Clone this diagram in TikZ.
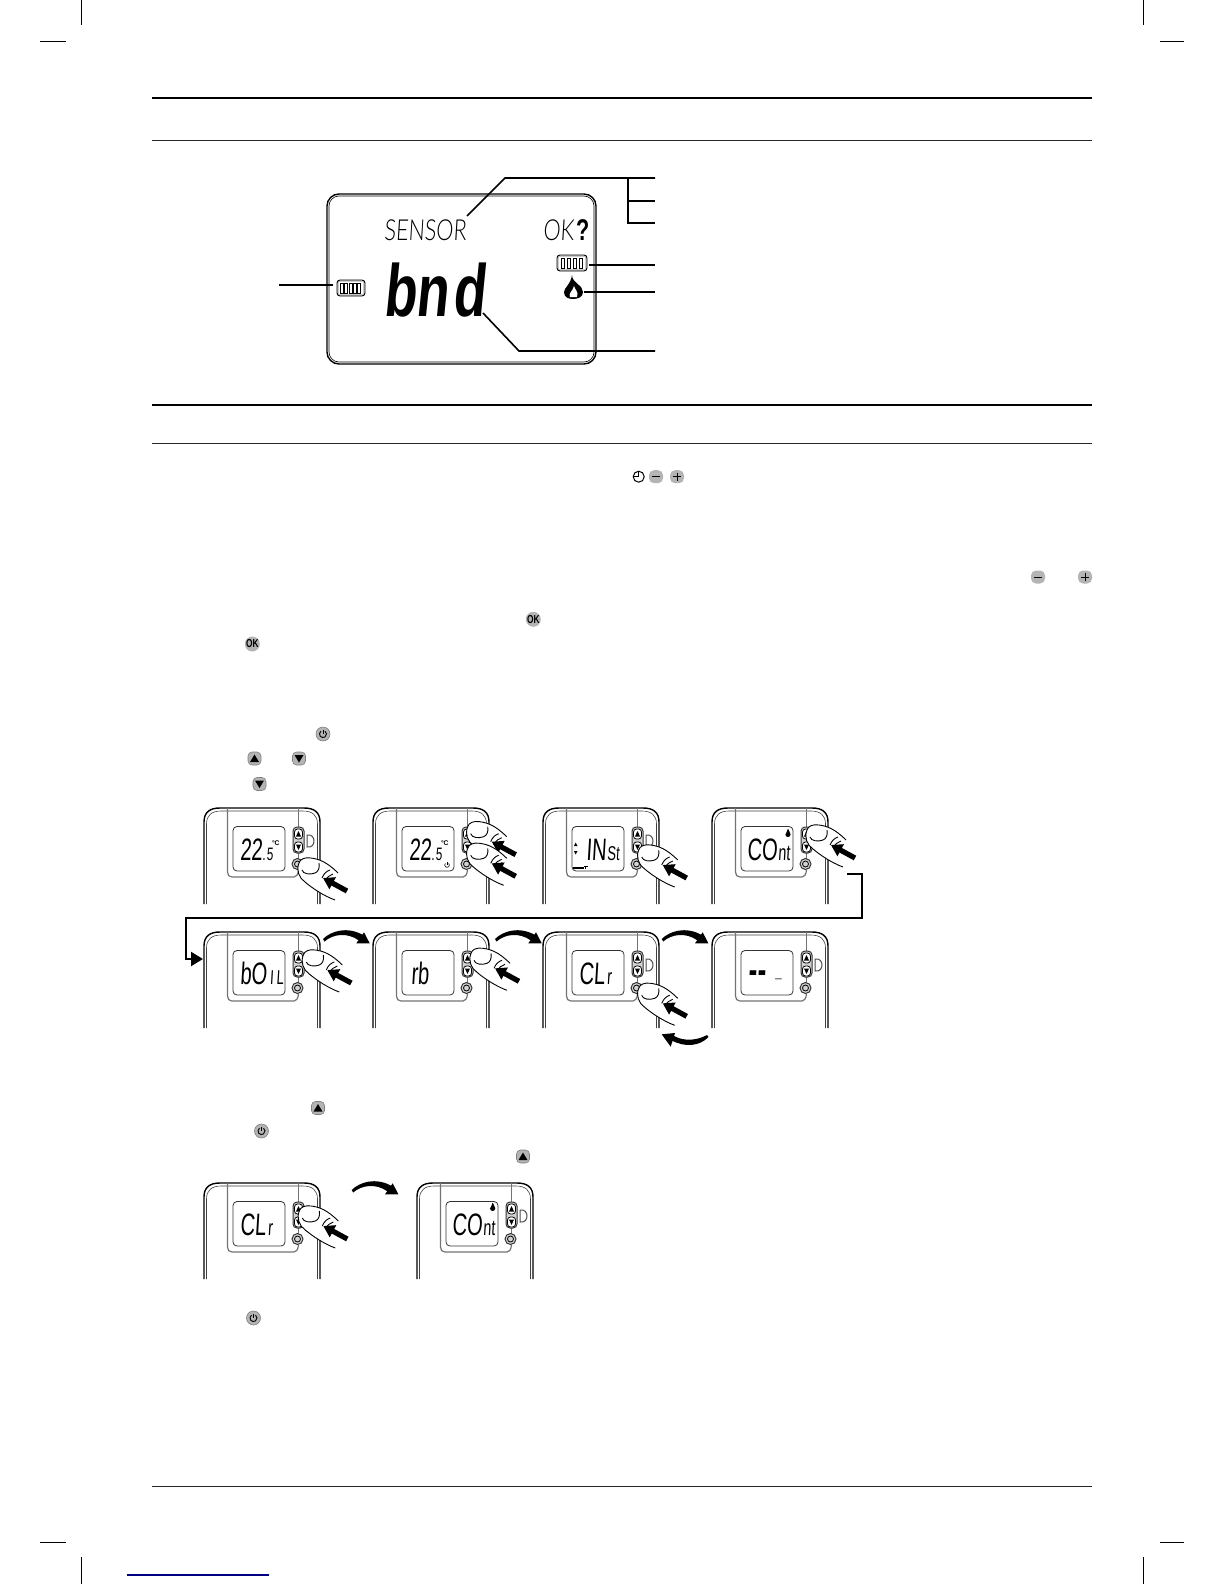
\documentclass[tikz,border=0pt]{standalone}
\usepackage{fontspec}
\setmainfont{Liberation Sans}
\newfontfamily\lcdreg[FakeSlant=0.06,FakeStretch=0.65]{Liberation Sans}
\newfontfamily\lcdbig[FakeSlant=0.1,FakeStretch=0.72]{Liberation Sans}
\newfontfamily\lcdq[FakeStretch=0.72]{Liberation Sans}
\newfontfamily\lcdthin[FakeSlant=0.06,FakeStretch=0.745]{Lato Light}
\usetikzlibrary{arrows.meta}
\definecolor{btngray}{HTML}{B4B4B4}
\tikzset{
  x=0.5pt,y=-0.5pt,
  rulethick/.style={line width=1pt,black},
  rulethin/.style={line width=0.4pt,black!85},
  crop/.style={line width=0.5pt,black},
  leader/.style={line width=0.8pt,black},
  lcdtxt/.style={anchor=base west,inner sep=0pt,outer sep=0pt,text=black},
  body/.style={line width=0.7pt,black},
  bodyin/.style={line width=0.3pt,black!75},
  panel/.style={line width=0.6pt,black!55},
  screenbox/.style={line width=0.4pt,black!80,rounded corners=2pt,fill=white},
  pressarrow/.style={line width=2.6pt,black,-{Triangle[length=5.5pt,width=6.5pt]}},
  thickflow/.style={line width=1.1pt,black},
  fingerline/.style={line width=0.45pt,black},
  iconbtn/.style={fill=btngray,draw=black!50,line width=0.3pt},
}
% device body, origin at left/top edge
\newcommand{\thdevice}[2]{%
  \begin{scope}[shift={(#1,#2)}]
    \draw[body] (0,96) -- (0,14) .. controls (0,4) and (6,0) .. (16,0) -- (100,0) .. controls (110,0) and (116,4) .. (116,14) -- (116,96);
    \draw[bodyin] (2.5,96) -- (2.5,16) .. controls (2.5,7) and (8,3) .. (17,3) -- (99,3) .. controls (108,3) and (113.5,7) .. (113.5,16) -- (113.5,96);
    \draw[panel] (23.5,0) -- (23.5,64) .. controls (23.5,67) and (25,69) .. (28,69) -- (90,69) .. controls (92,69) and (94,67) .. (94.5,62);
    \draw[panel] (94.5,0) -- (94.5,19);
    \draw[panel] (94.5,45) -- (94.5,51);
    \draw[screenbox] (29,18.5) rectangle (81,63);
    \draw[line width=0.5pt,black!70,fill=white] (103,27) .. controls (108,26) and (110,30) .. (110,33) .. controls (110,36) and (108,40) .. (103,39) -- cycle;
    \draw[line width=0.5pt,black!80,fill=btngray!60,rounded corners=2pt] (89,19) rectangle (100,45);
    \draw[line width=0.4pt,black,fill=white,rounded corners=1.5pt] (90.5,21) rectangle (98.5,31);
    \draw[line width=0.4pt,black,fill=white,rounded corners=1.5pt] (90.5,34) rectangle (98.5,44);
    \fill[black] (94.5,23) -- (97,28.5) -- (92,28.5) -- cycle;
    \fill[black] (94.5,42) -- (97,36.5) -- (92,36.5) -- cycle;
    \draw[line width=0.5pt,black!80,fill=btngray!60] (93.5,56) circle (5.5);
    \draw[line width=0.4pt,black] (93.5,56) circle (3);
  \end{scope}}
% finger + press arrow: origin next to the pressed button
\newcommand{\thfinger}[2]{%
  \begin{scope}[shift={(#1,#2)}]
    \fill[white] (38,36) .. controls (27,32) and (15,24) .. (8,18) .. controls (2,14) and (-1,6) .. (2,-1) .. controls (3,-5) and (8,-7) .. (14,-6) .. controls (22,-5) and (30,-2) .. (41,9) -- (33,15) -- cycle;
    \draw[fingerline] (38,36) .. controls (27,32) and (15,24) .. (8,18) .. controls (2,14) and (-1,6) .. (2,-1) .. controls (3,-5) and (8,-7) .. (14,-6) .. controls (22,-5) and (30,-2) .. (41,9);
    \draw[fingerline] (5,6) .. controls (6,10) and (13,11) .. (18,9) .. controls (21,8) and (23,4) .. (22,-1);
    \draw[fingerline] (25,14) .. controls (27,9) and (30,7) .. (33,6);
    \draw[fingerline] (28,17) .. controls (30,13) and (33,11) .. (36,10);
    \draw[pressarrow] (50,27) -- (26,14);
  \end{scope}}
% big curved arrow, left to right
\newcommand{\thcurve}[2]{%
  \begin{scope}[shift={(#1,#2)}]
    \fill[black] (0,0) .. controls (8,-8) and (24,-13) .. (40,-4) -- (36,1.5) .. controls (24,-7) and (10,-5) .. (1.5,2.5) -- cycle;
    \fill[black] (41,-6.7) -- (46.7,4.3) -- (33.3,4.3) -- cycle;
  \end{scope}}
% text-line icons
\newcommand{\btnpower}[2]{%
  \path[iconbtn] (#1,#2) circle (7);
  \draw[line width=0.45pt,black] (#1,#2) ++(-2,-2.8) arc[start angle=235,end angle=-55,radius=3.5];
  \draw[line width=0.45pt,black] (#1,#2) ++(0,-4.5) -- ++(0,4);}
\newcommand{\btnup}[2]{%
  \path[iconbtn,rounded corners=2pt] (#1,#2) ++(-6.5,-6.5) rectangle ++(13,13);
  \fill[black] (#1,#2) ++(0,-4) -- ++(4.5,7.5) -- ++(-9,0) -- cycle;}
\newcommand{\btndown}[2]{%
  \path[iconbtn,rounded corners=2pt] (#1,#2) ++(-6.5,-6.5) rectangle ++(13,13);
  \fill[black] (#1,#2) ++(0,4) -- ++(4.5,-7.5) -- ++(-9,0) -- cycle;}
\newcommand{\btnminus}[2]{%
  \fill[btngray,rounded corners=2.5pt] (#1,#2) ++(-7,-6.5) rectangle ++(14,13);
  \draw[line width=0.4pt,black] (#1,#2) ++(-4,0) -- ++(8,0);}
\newcommand{\btnplus}[2]{%
  \fill[btngray,rounded corners=2.5pt] (#1,#2) ++(-7,-6.5) rectangle ++(14,13);
  \draw[line width=0.4pt,black] (#1,#2) ++(-4,0) -- ++(8,0) (#1,#2) ++(0,-4) -- ++(0,8);}
\newcommand{\btnok}[3]{%
  \node[circle,fill=btngray,minimum size=7.4pt,inner sep=0pt,font=\lcdq\bfseries\fontsize{5.8}{6}\selectfont] (#3) at (#1,#2) {OK};}
\newcommand{\smallflame}[2]{%
  \begin{scope}[shift={(#1,#2)}]
    \fill[black] (0,-4.5) .. controls (0.3,-2) and (2.6,-1) .. (2.6,1.5) .. controls (2.6,3) and (1,4) .. (0,4) .. controls (-1.5,4) and (-2.6,3) .. (-2.6,1.5) .. controls (-2.6,0) and (-0.2,-1.5) .. (0,-4.5) -- cycle;
  \end{scope}}
\begin{document}
\begin{tikzpicture}
\useasboundingbox (0,0) rectangle (1224,1584);
% page rules
\draw[rulethick] (152,98) -- (1092,98);
\draw[rulethin] (152,140) -- (1092,140);
\draw[rulethick] (152,404.5) -- (1092,404.5);
\draw[rulethin] (152,443) -- (1092,443);
\draw[rulethin] (152,1486.5) -- (1092,1486.5);
% crop marks
\draw[crop] (81,0) -- (81,25) (40,42) -- (66,42);
\draw[crop] (1143,0) -- (1143,25) (1160,42) -- (1184,42);
\draw[crop] (81,1557) -- (81,1584) (40,1542) -- (66,1542);
\draw[crop] (1143,1557) -- (1143,1584) (1160,1542) -- (1184,1542);
\draw[line width=0.6pt,blue!50!black] (127,1575) -- (269,1575);

% main display
\draw[line width=0.7pt,black,rounded corners=6pt] (327,194) rectangle (596,364);
\draw[line width=0.3pt,black,rounded corners=5pt] (329,196) rectangle (594,362);
\node[lcdtxt,font=\lcdthin\fontsize{14.5}{16}\selectfont] (sensor) at (384,240) {SENSOR};
\node[lcdtxt,font=\lcdthin\fontsize{14.5}{16}\selectfont] (oktxt) at (543,240) {OK};
\node[lcdtxt,font=\lcdq\bfseries\fontsize{15}{16}\selectfont] (qmark) at (576,240) {?};
\node[lcdtxt,font=\lcdbig\bfseries\fontsize{37}{40}\selectfont] (bnd) at (383,316) {bn\kern2pt d};
% batteries
\draw[line width=0.45pt,black,fill=btngray!70,rounded corners=1.5pt] (337,280) rectangle (365,296);
\fill[white] (339,282) rectangle (363,294);
\foreach \bx in {340.5,344.8,349.1,353.4,357.7} \draw[line width=0.4pt,black] (\bx,283) rectangle ++(3,10);
\draw[line width=0.45pt,black,fill=btngray!70,rounded corners=1.5pt] (557,255) rectangle (587,271);
\fill[white] (559,257) rectangle (585,269);
\foreach \bx in {561,567,573,579} \draw[line width=0.4pt,black] (\bx,258) rectangle ++(3,10);
% flame
\fill[black] (572,275) .. controls (572,283) and (583,285) .. (583,292) .. controls (583,297) and (578,299) .. (573,299) .. controls (568,299) and (564,297) .. (564,292) .. controls (564,288) and (571,284) .. (572,275) -- cycle;
\fill[white] (574,286) .. controls (575,290) and (579,292) .. (577,297) -- (570,297) .. controls (568,293) and (573,291) .. (574,286) -- cycle;
% leaders
\coordinate (ls) at (467,216);
\coordinate (lsk) at (505,178);
\coordinate (ljt) at (628,178);
\coordinate (ljm) at (628,201);
\coordinate (ljb) at (628,223);
\coordinate (le1) at (655,178);
\coordinate (le2) at (655,201);
\coordinate (le3) at (655,223);
\coordinate (lb) at (589,265);
\coordinate (le4) at (655,265);
\coordinate (lf) at (584,292);
\coordinate (le5) at (655,292);
\coordinate (ld) at (483,313);
\coordinate (ldk) at (519,351);
\coordinate (le6) at (655,351);
\coordinate (ll) at (333,285);
\coordinate (le7) at (279,285);
\draw[leader] (ls) -- (lsk) -- (le1);
\draw[leader] (ljt) -- (ljb) -- (le3);
\draw[leader] (ljm) -- (le2);
\draw[leader] (lb) -- (le4);
\draw[leader] (lf) -- (le5);
\draw[leader] (ld) -- (ldk) -- (le6);
\draw[leader] (ll) -- (le7);

% inline icons
\draw[line width=0.5pt,black] (638.7,476.7) circle (5.5);
\draw[line width=0.5pt,black] (638.7,471.5) -- (638.7,476.7) -- (634,476.7);
\btnminus{656}{476.7}
\btnplus{677}{476.7}
\btnminus{1038}{577}
\btnplus{1085}{577}
\btnok{533.3}{619.3}{oka}{}
\btnok{252.3}{644}{okb}{}
\btnpower{323}{734}
\btnup{254.5}{758.5}
\btndown{299}{758.5}
\btndown{259.5}{784}
\btnup{318}{1108}
\btnpower{261.5}{1131}
\btnup{523}{1156.5}
\btnpower{253.5}{1318}

% row 1
\thdevice{204}{808}
\thdevice{373}{808}
\thdevice{543}{808}
\thdevice{712}{808}
\node[lcdtxt,font=\lcdreg\fontsize{15.5}{17}\selectfont] (t1) at (240,860) {22{\fontsize{9}{9}\selectfont.\kern0.5pt5}};
\node[lcdtxt,font=\bfseries\fontsize{3.4}{4}\selectfont] (d1) at (272,845) {°C};
\node[lcdtxt,font=\lcdreg\fontsize{15.5}{17}\selectfont] (t2) at (409,860) {22{\fontsize{9}{9}\selectfont.\kern0.5pt5}};
\node[lcdtxt,font=\bfseries\fontsize{3.4}{4}\selectfont] (d2) at (441,845) {°C};
\draw[line width=0.3pt,black] (447,865) ++(-1.6,-1.6) arc[start angle=225,end angle=-45,radius=2.3];
\draw[line width=0.3pt,black] (447,862) -- (447,865);
\node[lcdtxt,font=\lcdreg\fontsize{15.5}{17}\selectfont] (t3) at (586,860) {IN\kern0.5pt{\fontsize{10}{10}\selectfont St}};
\fill[black] (575.7,842.5) -- (577.5,846) -- (573.9,846) -- cycle;
\fill[black] (575.7,854.5) -- (577.5,851) -- (573.9,851) -- cycle;
\draw[line width=1pt,black] (573,868) -- (584,868);
\draw[line width=0.5pt,black] (584,866) -- (588,866) (585,866) -- (585,869);
\node[lcdtxt,font=\lcdreg\fontsize{15.5}{17}\selectfont] (t4) at (747,860) {CO\kern0.5pt{\fontsize{11}{11}\selectfont nt}};
\smallflame{788}{833}
\thfinger{297}{864}
\thfinger{465.7}{827.7}
\thfinger{465.7}{849.3}
\thfinger{636.7}{851}
\thfinger{805}{831}

% connector
\coordinate (fa) at (846.7,874);
\coordinate (fb) at (861.7,874);
\coordinate (fc) at (861.7,917.7);
\coordinate (fd) at (185.7,917.7);
\coordinate (fe) at (185.7,959);
\coordinate (ff) at (203,959);
\draw[thickflow,-{Triangle[length=6pt,width=7pt]}] (fa) -- (fb) -- (fc) -- (fd) -- (fe) -- (ff);

% row 2
\thdevice{204}{932}
\thdevice{373}{932}
\thdevice{543}{932}
\thdevice{712}{932}
\node[lcdtxt,font=\lcdreg\fontsize{15.5}{17}\selectfont] (t5) at (240,984) {bO\kern1.5pt{\fontsize{10}{10}\selectfont I\kern1.5pt L}};
\node[lcdtxt,font=\lcdreg\fontsize{15.5}{17}\selectfont] (t6) at (411,984) {rb};
\node[lcdtxt,font=\lcdreg\fontsize{15.5}{17}\selectfont] (t7) at (579,984) {CL\kern1pt{\fontsize{11}{11}\selectfont r}};
\node[lcdtxt,font=\lcdreg\bfseries\fontsize{20}{21}\selectfont] (t8) at (748,983) {-\kern0.5pt-\kern4.5pt\raisebox{3pt}{\fontsize{9}{9}\selectfont\_}};
\thfinger{301.3}{956}
\thfinger{469}{954.3}
\thfinger{636.7}{989.3}
\thcurve{323}{939}
\thcurve{495}{939}
\thcurve{661.7}{939}
% return arrow
\fill[black] (708.5,1037) .. controls (700,1046) and (685,1048) .. (671,1040) -- (674,1036) .. controls (685,1042) and (698,1040) .. (707,1035) -- cycle;
\fill[black] (661.7,1034.3) -- (675,1033) -- (670.7,1046.7) -- cycle;

% row 3
\thdevice{204}{1183}
\thdevice{417}{1183}
\node[lcdtxt,font=\lcdreg\fontsize{15.5}{17}\selectfont] (t9) at (240,1235) {CL\kern1pt{\fontsize{11}{11}\selectfont r}};
\node[lcdtxt,font=\lcdreg\fontsize{15.5}{17}\selectfont] (t10) at (452,1235) {CO\kern0.5pt{\fontsize{11}{11}\selectfont nt}};
\smallflame{492.7}{1207}
\thfinger{297.3}{1212}
\thcurve{351.7}{1190}
\end{tikzpicture}
\end{document}
